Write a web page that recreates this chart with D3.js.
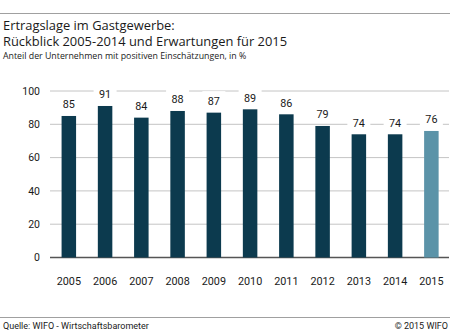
<!DOCTYPE html>
<html>
<head>
<meta charset="utf-8">
<script src="https://cdn.jsdelivr.net/npm/d3@7"></script>
<style>
  body { margin: 0; background: #fff; }
  svg { display: block; }
  .title { font-family: "Open Sans", sans-serif; font-size: 12.9px; fill: #1a1a1a; }
  .sub { font-family: "Open Sans", sans-serif; font-size: 8.8px; fill: #1a1a1a; }
  .num { font-family: Roboto, "Liberation Sans", sans-serif; fill: #1a1a1a; }
  .foot { font-family: Roboto, "Liberation Sans", sans-serif; font-size: 9px; fill: #1a1a1a; }
</style>
</head>
<body>
<svg width="450" height="333"></svg>
<script>
const years = ['2005','2006','2007','2008','2009','2010','2011','2012','2013','2014','2015']
const shares = [85, 91, 84, 88, 87, 89, 86, 79, 74, 74, 76]
const yTicks = [0, 20, 40, 60, 80, 100]

const svg = d3.select('svg')

const x = d3.scaleBand().domain(years).range([50.7, 449.5]).paddingInner(0.6).paddingOuter(0.3)
const y = d3.scaleLinear().domain([0, 100]).range([257.5, 91])

// header
svg.append('line').attr('x1', 0).attr('x2', 450).attr('y1', 13.5).attr('y2', 13.5)
  .attr('stroke', '#a0a0a0').attr('stroke-width', 1)
svg.append('text').attr('class', 'title').attr('x', 3).attr('y', 29.5).text('Ertragslage im Gastgewerbe:')
svg.append('text').attr('class', 'title').attr('x', 3).attr('y', 46).text('Rückblick 2005-2014 und Erwartungen für 2015')
svg.append('text').attr('class', 'sub').attr('x', 3).attr('y', 58.5).text('Anteil der Unternehmen mit positiven Einschätzungen, in %')

// grid
svg.selectAll('line.grid')
  .data(yTicks)
  .enter()
  .append('line')
  .attr('class', 'grid')
  .attr('x1', 50).attr('x2', 449)
  .attr('y1', d => y(d)).attr('y2', d => y(d))
  .attr('stroke', d => d === 0 ? '#555' : '#c4c4c4')
  .attr('stroke-width', d => d === 0 ? 1.3 : 1)

svg.selectAll('text.ytick')
  .data(yTicks)
  .enter()
  .append('text')
  .attr('class', 'num ytick')
  .attr('x', 40)
  .attr('y', d => y(d))
  .attr('dy', '0.36em')
  .attr('text-anchor', 'end')
  .style('font-size', '10.5px')
  .text(d => d)

// bars
svg.selectAll('rect.bar')
  .data(shares)
  .enter()
  .append('rect')
  .attr('class', 'bar')
  .attr('x', (d, i) => x(years[i]))
  .attr('y', d => y(d))
  .attr('width', x.bandwidth())
  .attr('height', d => y(0) - y(d))
  .attr('fill', (d, i) => i === years.length - 1 ? '#5b93a8' : '#0c3a4e')

// value labels with a white knockout behind them
const labels = svg.selectAll('g.val')
  .data(shares)
  .enter()
  .append('g')
  .attr('class', 'val')
  .attr('transform', (d, i) => `translate(${x(years[i]) + x.bandwidth() / 2}, ${y(d) - 7.5})`)

labels.append('rect')
  .attr('x', -11.5).attr('y', -14).attr('width', 23).attr('height', 16.5)
  .attr('fill', '#fff')

labels.append('text')
  .attr('class', 'num')
  .attr('text-anchor', 'middle')
  .style('font-size', '10.8px')
  .text(d => d)

svg.selectAll('text.year')
  .data(years)
  .enter()
  .append('text')
  .attr('class', 'num year')
  .attr('x', d => x(d) + x.bandwidth() / 2)
  .attr('y', 285)
  .attr('text-anchor', 'middle')
  .style('font-size', '10.8px')
  .text(d => d)

// footer
svg.append('line').attr('x1', 0).attr('x2', 450).attr('y1', 317.5).attr('y2', 317.5)
  .attr('stroke', '#a0a0a0').attr('stroke-width', 1)
svg.append('text').attr('class', 'foot').attr('x', 3).attr('y', 328.5).text('Quelle: WIFO - Wirtschaftsbarometer')
svg.append('text').attr('class', 'foot').attr('x', 448).attr('y', 328.5).attr('text-anchor', 'end').text('© 2015 WIFO')
</script>
</body>
</html>
